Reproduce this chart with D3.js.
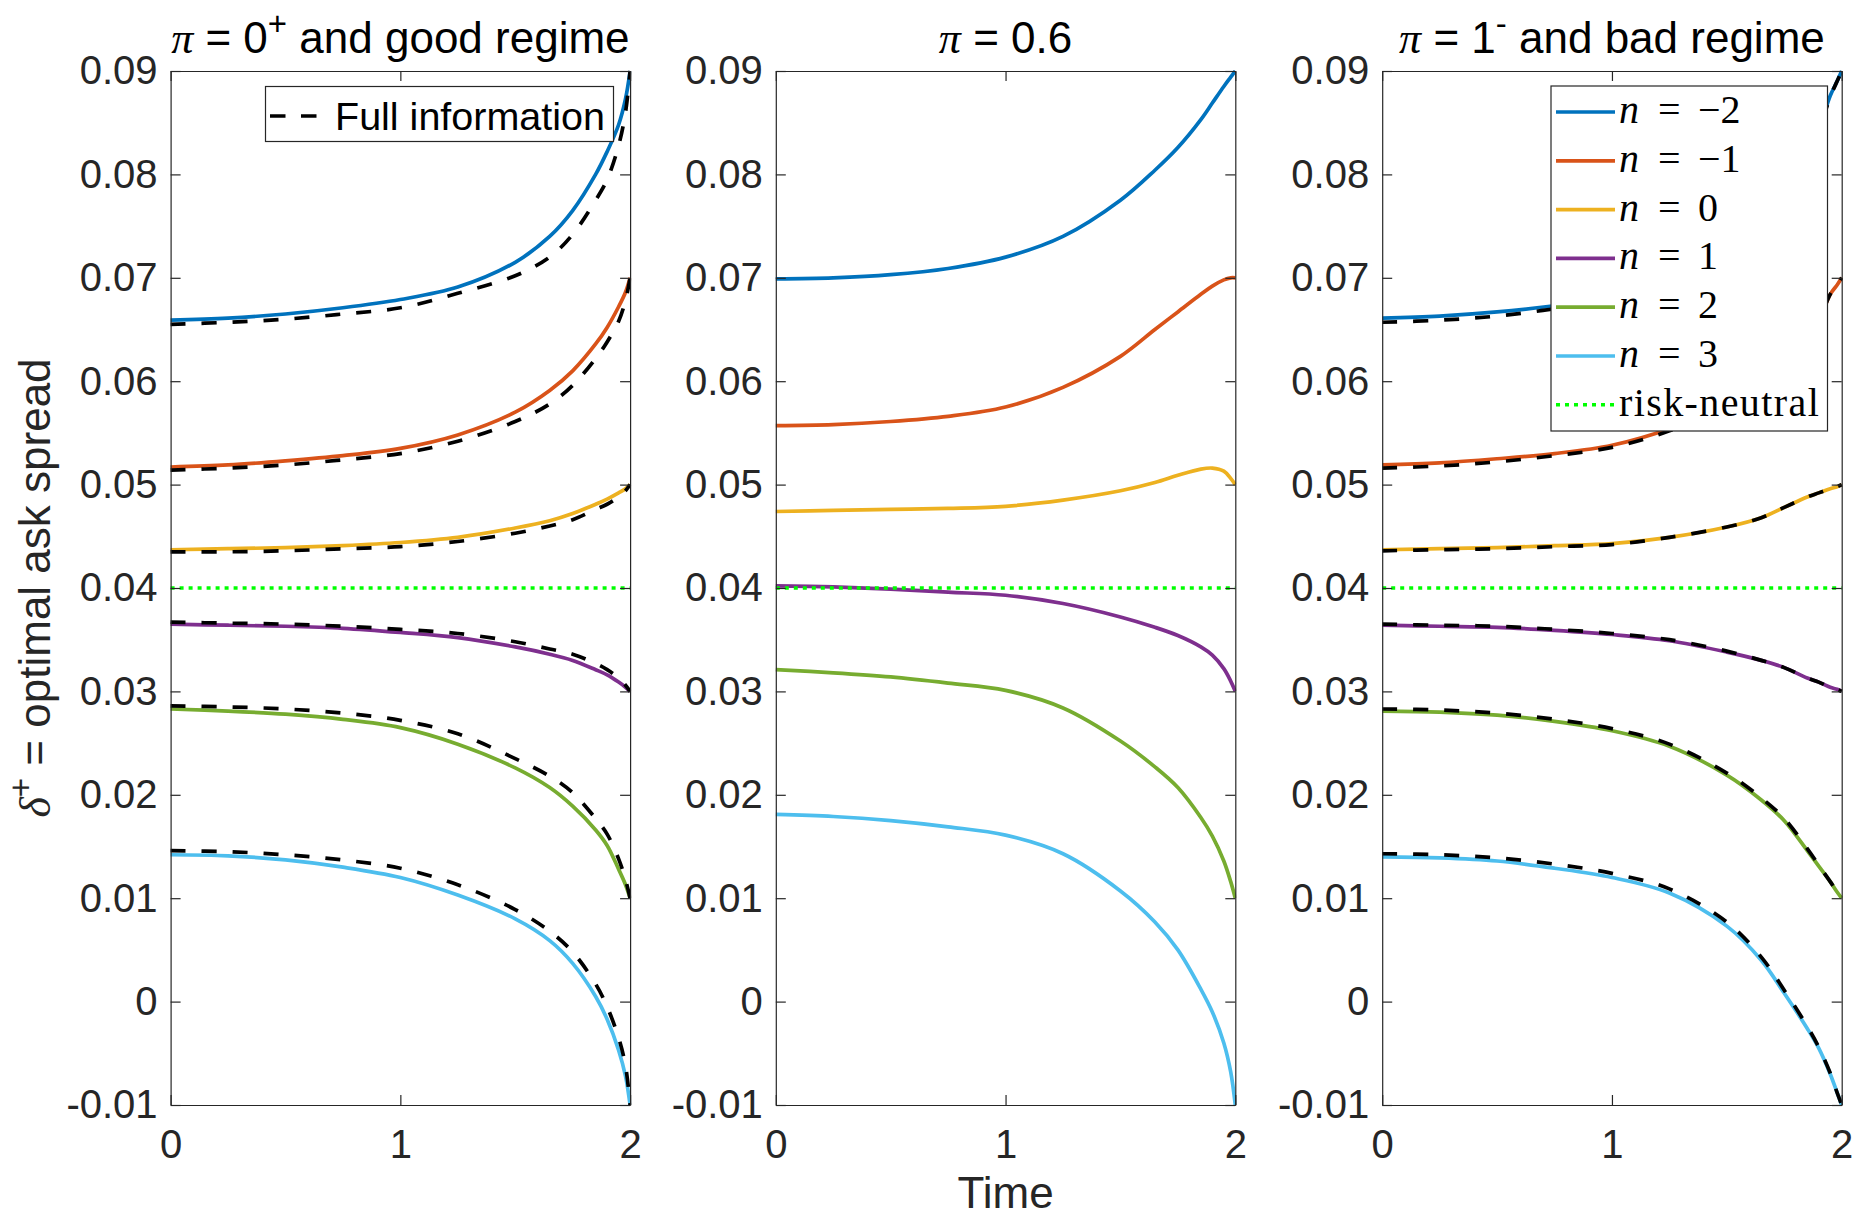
<!DOCTYPE html>
<html><head><meta charset="utf-8">
<script src="https://cdn.jsdelivr.net/npm/d3@7"></script>
<style>body{margin:0;background:#fff}</style>
</head><body><svg id="c" width="1857" height="1217"></svg>
<script>
// ---------- data ----------
const time = [0, 0.25, 0.5, 0.75, 1, 1.25, 1.5, 1.65, 1.75, 1.85, 1.9, 1.95, 1.98, 2];
const inventoryLevels = ["\u22122", "\u22121", "0", "1", "2", "3"];

// panel 1: pi = 0+ and good regime (filtered strategy), rows n = -2..3
const goodSpread = [
  [0.0659,0.0661,0.0665,0.0671,0.0679,0.0691,0.0715,0.0740,0.0765,0.0800,0.0822,0.0848,0.0873,0.0900],
  [0.0517,0.0519,0.0523,0.0528,0.0535,0.0548,0.0570,0.0591,0.0610,0.0636,0.0652,0.0672,0.0686,0.0700],
  [0.0437,0.0438,0.0439,0.0441,0.0444,0.0449,0.0458,0.0465,0.0472,0.0481,0.0486,0.0492,0.0496,0.0500],
  [0.0365,0.0364,0.0363,0.0361,0.0357,0.0352,0.0343,0.0336,0.0330,0.0321,0.0316,0.0309,0.0304,0.0300],
  [0.0283,0.0281,0.0278,0.0273,0.0265,0.0249,0.0226,0.0207,0.0189,0.0166,0.0151,0.0128,0.0113,0.0100],
  [0.0142,0.0141,0.0137,0.0130,0.0120,0.0103,0.0080,0.0059,0.0037,0.0005,-0.0017,-0.0047,-0.0072,-0.0100]
];
const goodFullInfo = [
  [0.0655,0.0657,0.0660,0.0665,0.0671,0.0685,0.0702,0.0720,0.0742,0.0775,0.0795,0.0828,0.0860,0.0900],
  [0.0514,0.0516,0.0519,0.0524,0.0530,0.0542,0.0561,0.0578,0.0596,0.0622,0.0638,0.0658,0.0678,0.0700],
  [0.0435,0.0435,0.0436,0.0438,0.0440,0.0445,0.0453,0.0460,0.0466,0.0476,0.0481,0.0488,0.0494,0.0500],
  [0.0367,0.0366,0.0365,0.0363,0.0360,0.0356,0.0348,0.0341,0.0336,0.0327,0.0321,0.0313,0.0306,0.0300],
  [0.0286,0.0285,0.0283,0.0279,0.0272,0.0259,0.0235,0.0218,0.0202,0.0177,0.0162,0.0138,0.0118,0.0100],
  [0.0146,0.0145,0.0142,0.0137,0.0129,0.0113,0.0089,0.0068,0.0048,0.0017,-0.0005,-0.0035,-0.0062,-0.0100]
];
// panel 2: pi = 0.6
const midSpread = [
  [0.0699,0.0700,0.0703,0.0709,0.0720,0.0740,0.0775,0.0804,0.0826,0.0853,0.0869,0.0885,0.0894,0.0900],
  [0.0557,0.0558,0.0561,0.0566,0.0575,0.0594,0.0624,0.0650,0.0667,0.0684,0.0692,0.0698,0.0700,0.0700],
  [0.0474,0.0475,0.0476,0.0477,0.0479,0.0485,0.0494,0.0502,0.0509,0.0515,0.0516,0.0513,0.0506,0.0500],
  [0.0402,0.0401,0.0399,0.0396,0.0393,0.0385,0.0372,0.0362,0.0354,0.0343,0.0335,0.0322,0.0310,0.0300],
  [0.0321,0.0318,0.0314,0.0308,0.0301,0.0284,0.0252,0.0227,0.0207,0.0178,0.0160,0.0136,0.0116,0.0100],
  [0.0181,0.0179,0.0175,0.0169,0.0161,0.0143,0.0107,0.0077,0.0050,0.0012,-0.0010,-0.0040,-0.0068,-0.0100]
];
// panel 3: pi = 1- and bad regime
const badSpread = [
  [0.0661,0.0663,0.0667,0.0673,0.0681,0.0697,0.0722,0.0746,0.0770,0.0818,0.0843,0.0876,0.0890,0.0900],
  [0.0519,0.0521,0.0525,0.0530,0.0538,0.0554,0.0578,0.0598,0.0614,0.0640,0.0658,0.0684,0.0693,0.0700],
  [0.0437,0.0438,0.0439,0.0441,0.0443,0.0449,0.0459,0.0468,0.0478,0.0488,0.0492,0.0496,0.0498,0.0500],
  [0.0364,0.0363,0.0362,0.0359,0.0355,0.0349,0.0338,0.0330,0.0323,0.0313,0.0309,0.0304,0.0302,0.0300],
  [0.0281,0.0280,0.0277,0.0271,0.0262,0.0247,0.0219,0.0195,0.0175,0.0146,0.0131,0.0116,0.0106,0.0100],
  [0.0140,0.0139,0.0136,0.0129,0.0120,0.0105,0.0073,0.0040,0.0008,-0.0026,-0.0045,-0.0070,-0.0088,-0.0100]
];
const badFullInfo = [
  [0.0657,0.0659,0.0663,0.0670,0.0678,0.0695,0.0720,0.0745,0.0768,0.0817,0.0842,0.0875,0.0890,0.0900],
  [0.0516,0.0518,0.0522,0.0528,0.0536,0.0552,0.0577,0.0597,0.0613,0.0640,0.0658,0.0684,0.0693,0.0700],
  [0.0436,0.0437,0.0438,0.0440,0.0442,0.0449,0.0459,0.0468,0.0478,0.0488,0.0492,0.0496,0.0498,0.0500],
  [0.0365,0.0364,0.0363,0.0360,0.0356,0.0350,0.0339,0.0330,0.0323,0.0313,0.0309,0.0304,0.0302,0.0300],
  [0.0283,0.0282,0.0279,0.0273,0.0264,0.0249,0.0221,0.0197,0.0177,0.0148,0.0132,0.0116,0.0106,0.0100],
  [0.0143,0.0142,0.0139,0.0133,0.0124,0.0109,0.0077,0.0043,0.0011,-0.0024,-0.0044,-0.0069,-0.0088,-0.0100]
];
const riskNeutralSpread = 0.04;
const yTickValues = [-0.01, 0, 0.01, 0.02, 0.03, 0.04, 0.05, 0.06, 0.07, 0.08, 0.09];
const xTickValues = [0, 1, 2];
const titleParts = [
  [["\u03c0", "sym"], [" = 0", ""], ["+", "sup"], [" and good regime", ""]],
  [["\u03c0", "sym"], [" = 0.6", ""]],
  [["\u03c0", "sym"], [" = 1", ""], ["-", "sup"], [" and bad regime", ""]]
];
const xLabel = "Time";
const yLabelParts = [["\u03b4", "sym"], ["+", "sup"], [" = optimal ask spread", ""]];
const fullInfoLabel = "Full information";
const riskNeutralLabel = "risk-neutral";

// ---------- style ----------
const seriesColors = ["#0072BD", "#D95319", "#EDB120", "#7E2F8E", "#77AC30", "#4DBEEE"];
const axisColor = "#262626";
const sans = "'Liberation Sans', Arial, Helvetica, sans-serif";
const serif = "'Liberation Serif', 'Times New Roman', serif";
const LW = 3.7;

const svg = d3.select("#c");
const lefts = [170.6, 775.8, 1382.2], W = 459.5, TOP = 71, BOT = 1105;
const y = d3.scaleLinear().domain([-0.01, 0.09]).range([BOT, TOP]);
const panels = [
  {spread: goodSpread, full: goodFullInfo},
  {spread: midSpread, full: null},
  {spread: badSpread, full: badFullInfo}
];

function richText(sel, parts, size) {
  parts.forEach(([t, kind], i) => {
    const prev = i > 0 ? parts[i - 1][1] : "";
    const ts = sel.append("tspan").text(t);
    if (kind === "sym") ts.attr("font-family", serif).attr("font-style", "italic");
    if (kind === "sup") ts.attr("font-size", size * 0.75).attr("dy", -size * 0.4);
    if (prev === "sup") ts.attr("dy", size * 0.4);
  });
}

panels.forEach((p, i) => {
  const x = d3.scaleLinear().domain([0, 2]).range([lefts[i], lefts[i] + W]);
  const g = svg.append("g");
  const cid = "clip" + i;
  svg.append("clipPath").attr("id", cid).append("rect")
    .attr("x", lefts[i] - 1).attr("y", TOP - 1).attr("width", W + 2).attr("height", BOT - TOP + 2);
  const plot = g.append("g").attr("clip-path", `url(#${cid})`);
  const line = d3.line().x((d, j) => x(time[j])).y(d => y(d)).curve(d3.curveCatmullRom.alpha(0.5));

  p.spread.forEach((s, k) => {
    plot.append("path").attr("d", line(s)).attr("fill", "none")
      .attr("stroke", seriesColors[k]).attr("stroke-width", LW).attr("stroke-linejoin", "round");
  });
  if (p.full) p.full.forEach(s => {
    plot.append("path").attr("d", line(s)).attr("fill", "none")
      .attr("stroke", "#000").attr("stroke-width", LW).attr("stroke-dasharray", "15,16");
  });
  plot.append("line").attr("x1", x(0)).attr("x2", x(2))
    .attr("y1", y(riskNeutralSpread)).attr("y2", y(riskNeutralSpread))
    .attr("stroke", "#00FF00").attr("stroke-width", 3.6).attr("stroke-dasharray", "4,5");

  // axes
  const fmt = d => d === 0 ? "0" : (d < 0 ? "-" + Math.abs(d).toFixed(2) : d.toFixed(2));
  const styleAxis = a => {
    a.attr("color", axisColor).attr("font-family", sans).attr("font-size", 40);
    a.selectAll("path,line").attr("stroke-width", 1.2);
  };
  const aL = g.append("g").attr("transform", `translate(${lefts[i]},0)`)
    .call(d3.axisLeft(y).tickValues(yTickValues).tickFormat(fmt).tickSizeInner(-10).tickSizeOuter(0).tickPadding(13));
  styleAxis(aL);
  const aR = g.append("g").attr("transform", `translate(${lefts[i] + W},0)`)
    .call(d3.axisRight(y).tickValues(yTickValues).tickFormat("").tickSizeInner(-10).tickSizeOuter(0));
  styleAxis(aR);
  const aB = g.append("g").attr("transform", `translate(0,${BOT})`)
    .call(d3.axisBottom(x).tickValues(xTickValues).tickFormat(d3.format("d")).tickSizeInner(-10).tickSizeOuter(0).tickPadding(25));
  styleAxis(aB);
  const aT = g.append("g").attr("transform", `translate(0,${TOP})`)
    .call(d3.axisTop(x).tickValues(xTickValues).tickFormat("").tickSizeInner(-10).tickSizeOuter(0));
  styleAxis(aT);

  // title
  const tt = svg.append("text").attr("x", lefts[i] + W / 2).attr("y", 53)
    .attr("text-anchor", "middle").attr("font-family", sans).attr("font-size", 44).attr("fill", "#000");
  richText(tt, titleParts[i], 44);
});

// x label
svg.append("text").attr("x", lefts[1] + W / 2).attr("y", 1208).attr("text-anchor", "middle")
  .attr("font-family", sans).attr("font-size", 44).attr("fill", axisColor).text(xLabel);
// y label
const yl = svg.append("text").attr("transform", `translate(50,${(TOP + BOT) / 2}) rotate(-90)`)
  .attr("text-anchor", "middle").attr("font-family", sans).attr("font-size", 44).attr("fill", axisColor);
richText(yl, yLabelParts, 44);

// legend panel 1
const L1 = svg.append("g");
L1.append("rect").attr("x", 265.5).attr("y", 86.5).attr("width", 348).attr("height", 55)
  .attr("fill", "#fff").attr("stroke", axisColor).attr("stroke-width", 1.2);
L1.append("line").attr("x1", 270).attr("x2", 317).attr("y1", 116).attr("y2", 116)
  .attr("stroke", "#000").attr("stroke-width", LW).attr("stroke-dasharray", "15.5,15.5");
L1.append("text").attr("x", 335).attr("y", 130).attr("font-family", sans).attr("font-size", 39.5)
  .attr("fill", "#000").text(fullInfoLabel);

// legend panel 3
const L3 = svg.append("g");
L3.append("rect").attr("x", 1551).attr("y", 86).attr("width", 276.5).attr("height", 345)
  .attr("fill", "#fff").attr("stroke", axisColor).attr("stroke-width", 1.2);
const rowY = k => 112 + k * 48.8;
inventoryLevels.forEach((n, k) => {
  L3.append("line").attr("x1", 1556).attr("x2", 1615).attr("y1", rowY(k)).attr("y2", rowY(k))
    .attr("stroke", seriesColors[k]).attr("stroke-width", LW);
  const t = L3.append("text").attr("y", rowY(k) + 11).attr("font-family", serif)
    .attr("font-size", 40).attr("fill", "#000");
  t.append("tspan").attr("x", 1619).attr("font-style", "italic").text("n");
  t.append("tspan").attr("x", 1658).text("=");
  t.append("tspan").attr("x", 1698).text(n);
});
L3.append("line").attr("x1", 1556).attr("x2", 1615).attr("y1", rowY(6)).attr("y2", rowY(6))
  .attr("stroke", "#00FF00").attr("stroke-width", 3.6).attr("stroke-dasharray", "4,5");
L3.append("text").attr("x", 1619).attr("y", rowY(6) + 11).attr("font-family", serif).attr("font-size", 40)
  .attr("letter-spacing", 1.4).attr("fill", "#000").text(riskNeutralLabel);
</script></body></html>
